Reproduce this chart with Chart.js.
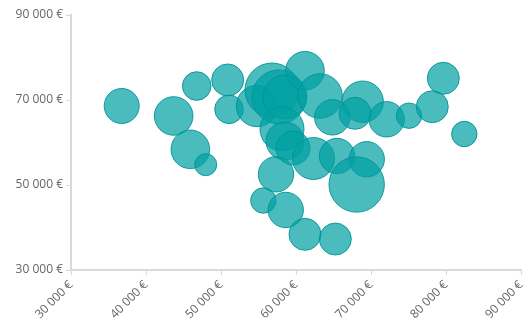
<!DOCTYPE html>
<html>
<head>
<meta charset="utf-8">
<script src="https://cdn.jsdelivr.net/npm/chart.js@4"></script>
<style>
html,body{margin:0;padding:0;background:#fff;}
#wrap{width:524px;height:331px;}
</style>
</head>
<body>
<div id="wrap"><canvas id="c" width="524" height="331"></canvas></div>
<script>
// Salary (x) vs. value (y) bubbles, bubble radius in px
const xValues = [36760, 46760, 50890, 43690, 51070, 45910, 47960, 54800,
  56800, 57730, 58530, 58130, 58530, 59600,
  61200, 79640, 63200, 68890, 64840, 67870, 72090, 75070, 78170, 82440,
  62330, 65470, 69430, 68090, 57330, 55640, 58630, 61200, 65240];
const yValues = [68590, 73290, 74710, 66240, 67810, 58400, 54780, 68590,
  72350, 70710, 70710, 63180, 60350, 58710,
  76890, 75110, 70940, 69600, 65930, 66870, 65460, 66310, 68420, 62000,
  56240, 56820, 56050, 50120, 52520, 46350, 44120, 38400, 37290];
const rValues = [17.5, 14.3, 16, 19.3, 14.3, 19.3, 11, 20.7,
  27, 27, 22, 22, 19, 17,
  19.3, 16, 22.3, 20.7, 17.7, 16, 17.7, 12.7, 16, 12.7,
  21, 17.7, 17.7, 27.7, 17.7, 12.7, 17.7, 16, 16];
const xTicks = [30000, 40000, 50000, 60000, 70000, 80000, 90000];
const yTicks = [30000, 50000, 70000, 90000];

function euro(v){
  return String(Math.round(v)).replace(/\B(?=(\d{3})+(?!\d))/g, ' ') + ' €';
}

const points = xValues.map((x, i) => ({x: x, y: yValues[i], r: rValues[i]}));

new Chart(document.getElementById('c'), {
  type: 'bubble',
  data: {
    datasets: [{
      data: points,
      backgroundColor: 'rgba(0,160,163,0.71)',
      borderColor: 'rgba(0,148,151,0.9)',
      borderWidth: 1,
      hoverRadius: 0
    }]
  },
  options: {
    responsive: false,
    animation: false,
    events: [],
    layout: {autoPadding: false, padding: {top: 15, right: 3, left: 0, bottom: 0}},
    plugins: {legend: {display: false}, tooltip: {enabled: false}},
    scales: {
      x: {
        type: 'linear',
        min: 30000, max: 90000,
        afterBuildTicks: s => { s.ticks = xTicks.map(v => ({value: v})); },
        afterFit: s => { s.height = 61; s.paddingLeft = 0; s.paddingRight = 0; },
        border: {display: true, color: '#d9d9d9', width: 2},
        grid: {drawOnChartArea: false, drawTicks: true, tickLength: 5, color: '#d9d9d9'},
        ticks: {
          minRotation: 45, maxRotation: 45, padding: 3,
          color: '#666666',
          font: {family: 'Open Sans', size: 12},
          callback: v => euro(v)
        }
      },
      y: {
        type: 'linear',
        min: 30000, max: 90000,
        afterBuildTicks: s => { s.ticks = yTicks.map(v => ({value: v})); },
        afterFit: s => { s.width = 71; s.paddingTop = 0; s.paddingBottom = 0; },
        border: {display: true, color: '#d9d9d9', width: 2},
        grid: {drawOnChartArea: false, drawTicks: true, tickLength: 5, color: '#d9d9d9'},
        ticks: {
          padding: 3,
          color: '#666666',
          font: {family: 'Open Sans', size: 12},
          callback: v => euro(v)
        }
      }
    }
  }
});
</script>
</body>
</html>
